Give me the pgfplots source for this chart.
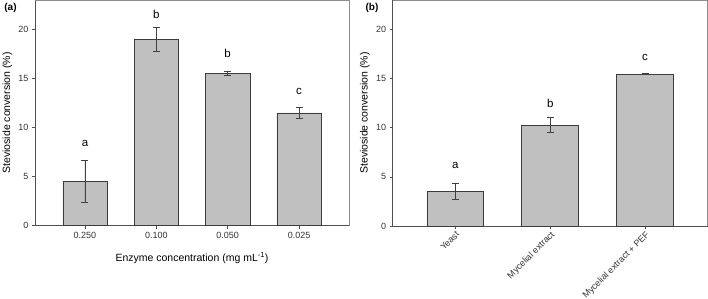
\documentclass[border=0pt]{standalone}
\usepackage{pgfplots}
\pgfplotsset{compat=1.18}
\usepackage{fontspec}
\setmainfont{Liberation Sans}
\definecolor{barfill}{HTML}{C0C0C0}
\definecolor{baredge}{HTML}{3C3C3C}
\definecolor{axcol}{HTML}{505050}
\definecolor{framecol}{HTML}{8C8C8C}
\tikzset{letter/.style={font=\fontsize{11.5}{13}\selectfont, anchor=center}}
\begin{document}
\begin{tikzpicture}
\useasboundingbox (0pt,0pt) rectangle (708pt,298pt);
\pgfplotsset{
 panel/.style={
  scale only axis, ymin=0, ymax=23, ytick={0,5,10,15,20},
  axis x line*=bottom, axis y line*=left,
  axis line style={axcol, line width=0.6pt, -},
  tick style={axcol, line width=0.5pt}, major tick length=3pt, tick align=outside,
  minor tick num=0,
  tick label style={font=\fontsize{9}{10.8}\selectfont, color=black!80},
  /pgf/number format/assume math mode=true,
  xtick=data,
  label style={font=\fontsize{10.5}{12}\selectfont},
  ylabel={Stevioside conversion (\%)},
  clip=false,
 },
 barstyle/.style={ybar, fill=barfill, draw=baredge, line width=0.6pt,
  error bars/.cd, y dir=both, y explicit,
  error bar style={black!75, line width=0.6pt},
  error mark options={rotate=90, mark size=3.5pt, black!75, line width=0.6pt}},
}
% Panel (a)
\begin{axis}[panel, at={(35pt,72.5pt)}, anchor=south west, width=314pt, height=225.3pt,
  xmin=-0.7, xmax=3.7, bar width=0.62,
  xticklabels={0.250,0.100,0.050,0.025},
  xlabel={Enzyme concentration (mg mL\textsuperscript{-1})},
  xlabel style={at={(axis description cs:0.5,-0.1605)}, anchor=base},
  ylabel style={at={(axis description cs:-0.0876,0.5)}, anchor=center}]
\addplot[barstyle] coordinates {
 (0,4.52) +- (0,2.16)
 (1,19.0) +- (0,1.2)
 (2,15.53) +- (0,0.24)
 (3,11.5) +- (0,0.6)
};
\node[letter] at (axis cs:0,8.33) {a};
\node[letter] at (axis cs:1,21.6) {b};
\node[letter] at (axis cs:2,17.6) {b};
\node[letter] at (axis cs:3,13.65) {c};
\draw[framecol, line width=0.6pt] (rel axis cs:0,1) -- (rel axis cs:1,1) -- (rel axis cs:1,0);
\end{axis}
% Panel (b)
\begin{axis}[panel, at={(392.7pt,72pt)}, anchor=south west, width=315pt, height=226pt,
  xmin=-0.66, xmax=2.66, bar width=0.6,
  xticklabels={Yeast,Mycelial extract,Mycelial extract + PEF},
  xticklabel style={rotate=45, anchor=north east, inner sep=1pt},
  ylabel style={at={(axis description cs:-0.088,0.5)}, anchor=center}]
\addplot[barstyle] coordinates {
 (0,3.53) +- (0,0.8)
 (1,10.27) +- (0,0.77)
 (2,15.46) +- (0,0.05)
};
\node[letter] at (axis cs:0,6.13) {a};
\node[letter] at (axis cs:1,12.48) {b};
\node[letter] at (axis cs:2,17.16) {c};
\draw[framecol, line width=0.6pt] (rel axis cs:0,1) -- (rel axis cs:1,1) -- (rel axis cs:1,0);
\end{axis}
\node[font=\bfseries\fontsize{10}{12}\selectfont, anchor=center] at (10.5pt,290pt) {(a)};
\node[font=\bfseries\fontsize{10}{12}\selectfont, anchor=center] at (372pt,290pt) {(b)};
\end{tikzpicture}
\end{document}
